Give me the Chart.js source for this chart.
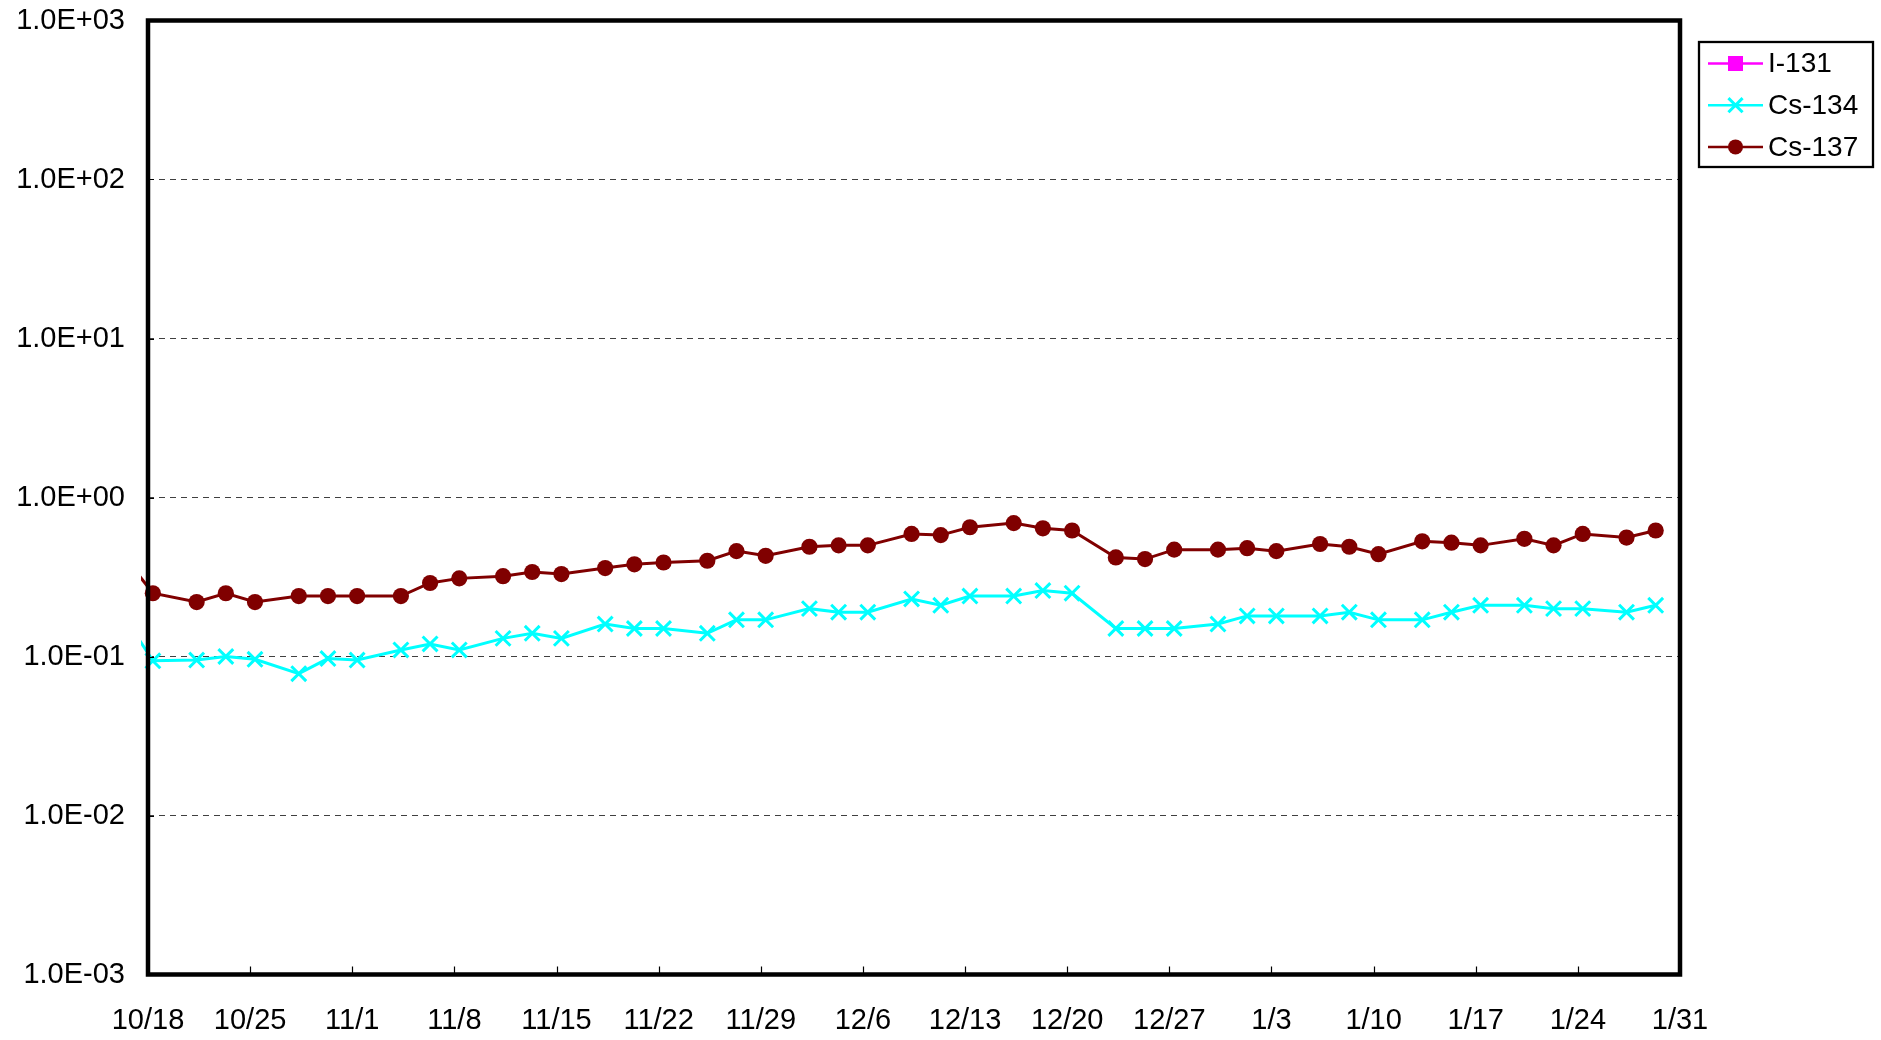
<!DOCTYPE html>
<html>
<head>
<meta charset="utf-8">
<script src="https://cdn.jsdelivr.net/npm/chart.js@4/dist/chart.umd.min.js"></script>
<style>
html,body{margin:0;padding:0;background:#fff;}
#c{display:block;}
</style>
</head>
<body>
<canvas id="c" width="1881" height="1040"></canvas>
<script>
// ---------------- data ----------------
const seriesNames = ['I-131', 'Cs-134', 'Cs-137'];

const sampleDates = [
  '2013-10-16','2013-10-18','2013-10-21','2013-10-23','2013-10-25','2013-10-28','2013-10-30',
  '2013-11-01','2013-11-04','2013-11-06','2013-11-08','2013-11-11','2013-11-13','2013-11-15',
  '2013-11-18','2013-11-20','2013-11-22','2013-11-25','2013-11-27','2013-11-29','2013-12-02',
  '2013-12-04','2013-12-06','2013-12-09','2013-12-11','2013-12-13','2013-12-16','2013-12-18',
  '2013-12-20','2013-12-23','2013-12-25','2013-12-27','2013-12-30','2014-01-01','2014-01-03',
  '2014-01-06','2014-01-08','2014-01-10','2014-01-13','2014-01-15','2014-01-17','2014-01-20',
  '2014-01-22','2014-01-24','2014-01-27','2014-01-29'
];

// I-131: not detected over the whole period
const i131Values = [];

const cs134Values = [
  0.18, 0.094, 0.095, 0.10, 0.096, 0.078, 0.097,
  0.095, 0.11, 0.12, 0.11, 0.13, 0.14, 0.13,
  0.16, 0.15, 0.15, 0.14, 0.17, 0.17, 0.20,
  0.19, 0.19, 0.23, 0.21, 0.24, 0.24, 0.26,
  0.25, 0.15, 0.15, 0.15, 0.16, 0.18, 0.18,
  0.18, 0.19, 0.17, 0.17, 0.19, 0.21, 0.21,
  0.20, 0.20, 0.19, 0.21
];

const cs137Values = [
  0.43, 0.25, 0.22, 0.25, 0.22, 0.24, 0.24,
  0.24, 0.24, 0.29, 0.31, 0.32, 0.34, 0.33,
  0.36, 0.38, 0.39, 0.40, 0.46, 0.43, 0.49,
  0.50, 0.50, 0.59, 0.58, 0.65, 0.69, 0.64,
  0.62, 0.42, 0.41, 0.47, 0.47, 0.48, 0.46,
  0.51, 0.49, 0.44, 0.53, 0.52, 0.50, 0.55,
  0.50, 0.59, 0.56, 0.62
];

const xTickLabels = ['10/18','10/25','11/1','11/8','11/15','11/22','11/29','12/6',
                     '12/13','12/20','12/27','1/3','1/10','1/17','1/24','1/31'];
const yTickValues = [1e-3, 1e-2, 1e-1, 1e0, 1e1, 1e2, 1e3];

const axisStart = '2013-10-18';
const sampleHour = 8;   // samples taken in the morning
const tickStepDays = 7;

// ---------------- helpers ----------------
function dayOffset(s) {
  const [y, m, d] = s.split('-').map(Number);
  const [y0, m0, d0] = axisStart.split('-').map(Number);
  return (Date.UTC(y, m - 1, d) - Date.UTC(y0, m0 - 1, d0)) / 86400000 + sampleHour / 24;
}
function toPoints(values) {
  return values.map((v, i) => ({ x: dayOffset(sampleDates[i]), y: v }));
}
function fmtExp(v) {
  const [mant, exp] = v.toExponential(1).split('e');
  const e = parseInt(exp, 10);
  return mant + 'E' + (e < 0 ? '-' : '+') + String(Math.abs(e)).padStart(2, '0');
}

const FONT = '"Liberation Sans", Arial, Helvetica, sans-serif';
Chart.defaults.font.family = FONT;
Chart.defaults.font.size = 29;
Chart.defaults.color = '#000';

const styles = [
  { color: '#FF00FF', marker: 'rect',     radius: 7.5, lw: 3 },
  { color: '#00FFFF', marker: 'crossRot', radius: 10.5, lw: 3 },
  { color: '#800000', marker: 'circle',   radius: 8.1, lw: 3 }
];
const seriesValues = [i131Values, cs134Values, cs137Values];

const datasets = seriesNames.map((name, k) => ({
  label: name,
  data: toPoints(seriesValues[k]),
  borderColor: styles[k].color,
  backgroundColor: styles[k].color,
  borderWidth: styles[k].lw,
  pointStyle: styles[k].marker,
  pointRadius: styles[k].radius,
  pointBorderWidth: styles[k].marker === 'crossRot' ? 3 : 0,
  pointBorderColor: styles[k].color,
  pointBackgroundColor: styles[k].color,
  pointHoverRadius: styles[k].radius,
  tension: 0,
  fill: false,
  clip: { left: 7, top: 0, right: 0, bottom: 0 }
}));

// ---------------- plugins ----------------
function drawMarker(ctx, type, x, y, r, color) {
  ctx.save();
  ctx.fillStyle = color; ctx.strokeStyle = color;
  if (type === 'rect') {
    ctx.fillRect(x - r, y - r, 2 * r, 2 * r);
  } else if (type === 'circle') {
    ctx.beginPath(); ctx.arc(x, y, r, 0, Math.PI * 2); ctx.fill();
  } else if (type === 'crossRot') {
    const d = r * Math.SQRT1_2;
    ctx.lineWidth = 3;
    ctx.beginPath();
    ctx.moveTo(x - d, y - d); ctx.lineTo(x + d, y + d);
    ctx.moveTo(x - d, y + d); ctx.lineTo(x + d, y - d);
    ctx.stroke();
  }
  ctx.restore();
}

const framePlugin = {
  id: 'frame',
  afterDatasetsDraw(chart) {
    const { ctx, chartArea: a, scales } = chart;
    ctx.save();
    ctx.strokeStyle = '#000';
    ctx.lineWidth = 1.2;
    ctx.beginPath();
    scales.x.ticks.forEach(t => {
      const px = Math.round(scales.x.getPixelForValue(t.value)) + 0.5;
      ctx.moveTo(px, a.bottom); ctx.lineTo(px, a.bottom - 8);
    });
    scales.y.ticks.forEach(t => {
      const py = Math.round(scales.y.getPixelForValue(t.value)) + 0.5;
      ctx.moveTo(a.left, py); ctx.lineTo(a.left + 6, py);
    });
    ctx.stroke();
    ctx.lineWidth = 4.5;
    ctx.strokeRect(a.left, a.top, a.right - a.left, a.bottom - a.top);
    ctx.restore();
  }
};

const legendPlugin = {
  id: 'boxLegend',
  afterDraw(chart) {
    const { ctx, chartArea: a } = chart;
    const bx = a.right + 19, by = a.top + 21.5, bw = 174, bh = 125;
    ctx.save();
    ctx.fillStyle = '#fff';
    ctx.fillRect(bx, by, bw, bh);
    ctx.lineWidth = 2.3;
    ctx.strokeStyle = '#000';
    ctx.strokeRect(bx, by, bw, bh);
    ctx.font = '28px ' + FONT;
    ctx.textBaseline = 'middle';
    ctx.textAlign = 'left';
    chart.data.datasets.forEach((ds, k) => {
      const cy = by + 21.5 + k * 41.7;
      ctx.strokeStyle = ds.borderColor;
      ctx.lineWidth = 2.5;
      ctx.beginPath();
      ctx.moveTo(bx + 9, cy); ctx.lineTo(bx + 64, cy);
      ctx.stroke();
      drawMarker(ctx, ds.pointStyle, bx + 36.5, cy, ds.pointStyle === 'crossRot' ? 10 : 7.5, ds.borderColor);
      ctx.fillStyle = '#000';
      ctx.fillText(ds.label, bx + 69, cy + 1);
    });
    ctx.restore();
  }
};

// ---------------- chart ----------------
new Chart(document.getElementById('c'), {
  type: 'line',
  data: { datasets },
  options: {
    responsive: false,
    animation: false,
    devicePixelRatio: 1,
    layout: { padding: { top: 20.5, right: 201, left: 0, bottom: 0 } },
    plugins: { legend: { display: false }, tooltip: { enabled: false } },
    scales: {
      x: {
        type: 'linear',
        min: 0,
        max: (xTickLabels.length - 1) * tickStepDays,
        afterBuildTicks: s => { s.ticks = xTickLabels.map((_, i) => ({ value: i * tickStepDays })); },
        afterFit: s => { s.height = 65.5; s.paddingLeft = 0; s.paddingRight = 0; },
        ticks: {
          autoSkip: false, maxRotation: 0, minRotation: 0, padding: 29,
          callback: (v, i) => xTickLabels[i],
          font: { size: 29, family: FONT }, color: '#000'
        },
        grid: { display: false, drawTicks: false },
        border: { display: false }
      },
      y: {
        type: 'logarithmic',
        min: yTickValues[0],
        max: yTickValues[yTickValues.length - 1],
        afterBuildTicks: s => { s.ticks = yTickValues.map(v => ({ value: v, major: true })); },
        afterFit: s => { s.width = 148; s.paddingTop = 0; s.paddingBottom = 0; },
        ticks: {
          autoSkip: false, padding: 23,
          callback: v => fmtExp(v),
          font: { size: 29, family: FONT }, color: '#000'
        },
        grid: { drawTicks: false, color: '#404040', lineWidth: 1 },
        border: { display: false, dash: [6, 5] }
      }
    }
  },
  plugins: [framePlugin, legendPlugin]
});
</script>
</body>
</html>
